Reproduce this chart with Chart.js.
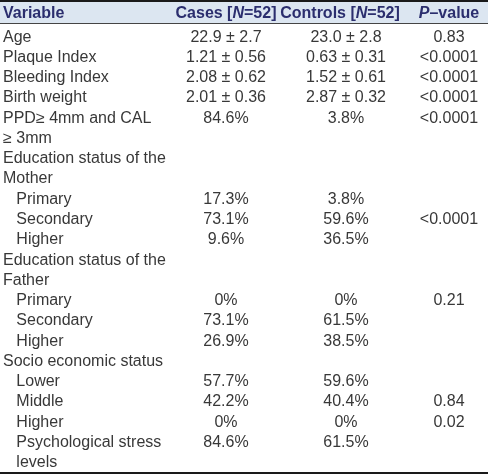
<!DOCTYPE html>
<html>
<head>
<meta charset="utf-8">
<script src="https://cdn.jsdelivr.net/npm/chart.js@4/dist/chart.umd.min.js"></script>
<style>
  html, body { margin: 0; padding: 0; background: #fff; }
  #wrap { width: 488px; height: 475px; }
</style>
</head>
<body>
<div id="wrap"><canvas id="table" width="488" height="475"></canvas></div>
<script>
// Table data (one entry per row, extra lines for wrapped labels)
const headers = ['Variable', 'Cases [_N_=52]', 'Controls [_N_=52]', '_P_–value'];
const variables = [
  ['Age'], ['Plaque Index'], ['Bleeding Index'], ['Birth weight'],
  ['PPD≥ 4mm and CAL', '≥ 3mm'],
  ['Education status of the', 'Mother'],
  ['   Primary'], ['   Secondary'], ['   Higher'],
  ['Education status of the', 'Father'],
  ['   Primary'], ['   Secondary'], ['   Higher'],
  ['Socio economic status'],
  ['   Lower'], ['   Middle'], ['   Higher'],
  ['   Psychological stress', '   levels']
];
const cases = ['22.9 ± 2.7', '1.21 ± 0.56', '2.08 ± 0.62', '2.01 ± 0.36', '84.6%', '',
  '17.3%', '73.1%', '9.6%', '', '0%', '73.1%', '26.9%', '', '57.7%', '42.2%', '0%', '84.6%'];
const controls = ['23.0 ± 2.8', '0.63 ± 0.31', '1.52 ± 0.61', '2.87 ± 0.32', '3.8%', '',
  '3.8%', '59.6%', '36.5%', '', '0%', '61.5%', '38.5%', '', '59.6%', '40.4%', '0%', '61.5%'];
const pValues = ['0.83', '<0.0001', '<0.0001', '<0.0001', '<0.0001', '',
  '', '<0.0001', '', '', '0.21', '', '', '', '', '0.84', '0.02', ''];

// first line of each row
const rowLine = [];
let n = 0;
variables.forEach(v => { rowLine.push(n); n += v.length; });
const totalLines = n;

const FONT = '"Liberation Sans", Arial, sans-serif';

function drawRich(ctx, text, x, y, align, size) {
  // parts between underscores are italic
  const parts = text.split('_');
  let width = 0;
  parts.forEach((p, i) => {
    ctx.font = (i % 2 ? 'italic ' : '') + 'bold ' + size + 'px ' + FONT;
    width += ctx.measureText(p).width;
  });
  let cx = align === 'center' ? x - width / 2 : x;
  ctx.textAlign = 'left';
  parts.forEach((p, i) => {
    ctx.font = (i % 2 ? 'italic ' : '') + 'bold ' + size + 'px ' + FONT;
    ctx.fillText(p, cx, y);
    cx += ctx.measureText(p).width;
  });
}

const tablePlugin = {
  id: 'tableText',
  beforeDraw(chart, args, opts) {
    const { ctx, chartArea, width } = chart;
    ctx.save();
    ctx.fillStyle = opts.headerBg;
    ctx.fillRect(0, 2, width, chartArea.top - 6);
    ctx.fillStyle = '#1a1a1a';
    ctx.fillRect(0, 0, width, 2);
    ctx.fillStyle = '#444';
    ctx.fillRect(0, chartArea.top - 4, width, 1);
    ctx.fillStyle = '#1a1a1a';
    ctx.fillRect(0, chartArea.bottom - 1, width, 2);
    ctx.restore();
  },
  afterDraw(chart, args, opts) {
    const { ctx, chartArea, scales: { x, y } } = chart;
    ctx.save();
    ctx.textBaseline = 'middle';

    // header
    ctx.fillStyle = opts.headerColor;
    const hy = (chartArea.top - 2) / 2 + 1;
    headers.forEach((h, i) => {
      drawRich(ctx, h, x.getPixelForValue(opts.headerAt[i]), hy, i === 0 ? 'left' : 'center', opts.headerSize);
    });

    // body
    ctx.fillStyle = opts.textColor;
    ctx.font = opts.size + 'px ' + FONT;
    variables.forEach((lines, r) => {
      lines.forEach((t, k) => {
        ctx.textAlign = 'left';
        ctx.fillText(t, x.getPixelForValue(opts.colAt[0]), y.getPixelForValue(rowLine[r] + k));
      });
      const yy = y.getPixelForValue(rowLine[r]);
      ctx.textAlign = 'center';
      ctx.fillText(cases[r], x.getPixelForValue(opts.colAt[1]), yy);
      ctx.fillText(controls[r], x.getPixelForValue(opts.colAt[2]), yy);
      ctx.fillText(pValues[r], x.getPixelForValue(opts.colAt[3]), yy);
    });
    ctx.restore();
  }
};

new Chart(document.getElementById('table'), {
  type: 'scatter',
  data: { datasets: [] },
  plugins: [tablePlugin],
  options: {
    responsive: false,
    animation: false,
    layout: { padding: { top: 27, bottom: 2, left: 0, right: 0 } },
    plugins: {
      legend: { display: false },
      tooltip: { enabled: false },
      tableText: {
        headerBg: '#dce6f1',
        headerColor: '#2b2e6e',
        textColor: '#383838',
        headerSize: 16,
        size: 16,
        headerAt: [3, 226, 340, 449],
        colAt: [3, 226, 346, 449]
      }
    },
    scales: {
      x: { type: 'linear', min: 0, max: 488, display: false },
      y: { type: 'linear', min: -0.5, max: totalLines - 0.5, reverse: true, display: false }
    }
  }
});
</script>
</body>
</html>
